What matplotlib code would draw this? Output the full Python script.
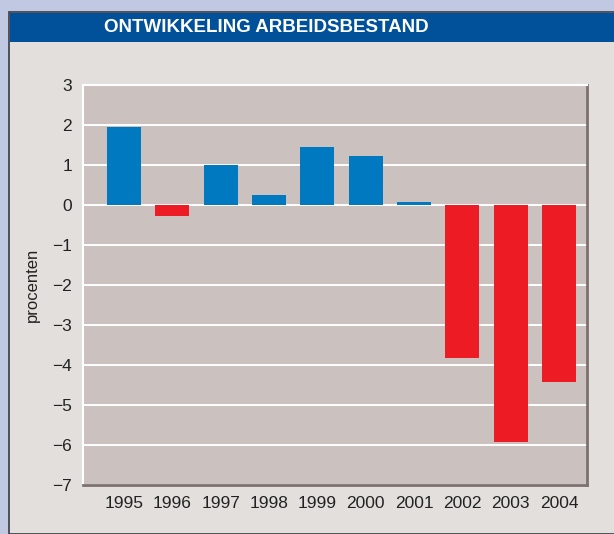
import matplotlib
matplotlib.use("Agg")
import matplotlib.pyplot as plt
from matplotlib.patches import Rectangle
from matplotlib import font_manager

years = ["1995", "1996", "1997", "1998", "1999", "2000", "2001", "2002", "2003", "2004"]
values = [1.95, -0.28, 1.0, 0.25, 1.45, 1.22, 0.08, -3.83, -5.93, -4.43]
yticks = [3, 2, 1, 0, -1, -2, -3, -4, -5, -6, -7]
title = "ONTWIKKELING ARBEIDSBESTAND"
ylabel = "procenten"

names = {f.name for f in font_manager.fontManager.ttflist}
narrow = "Liberation Sans Narrow" if "Liberation Sans Narrow" in names else "Liberation Sans"
plt.rcParams['font.family'] = [narrow, 'DejaVu Sans']

W, H = 614, 534
fig = plt.figure(figsize=(W / 100, H / 100), dpi=100)
fig.patch.set_facecolor("#c0c9e1")

def fx(px):
    return px / W

def fy(py):
    return 1 - py / H

# panel
fig.add_artist(Rectangle((fx(9), 0), 1 - fx(9) + 0.01, fy(12), transform=fig.transFigure,
                         facecolor="#e3dfdc", edgecolor="#3a3a44", linewidth=1.2, zorder=0))
# title bar
fig.add_artist(Rectangle((fx(10), fy(42)), 1, (42 - 13) / H, transform=fig.transFigure,
                         facecolor="#00509a", edgecolor="none", zorder=1))
fig.text(fx(266), fy(28), title, color="white", fontsize=13.5, fontweight="bold",
         ha="center", va="center", family=["Liberation Sans", "DejaVu Sans"], zorder=2)

ax = fig.add_axes([fx(83), fy(485), (587 - 83) / W, 400 / H])
ax.set_facecolor("#cbc2bf")
x = list(range(len(years)))
colors = ["#0079c1" if v >= 0 else "#ed1c24" for v in values]
ax.bar(x, values, width=0.7, color=colors, zorder=3)
ax.set_ylim(-7, 3)
ax.set_xlim(-0.85, 9.58)
ax.set_yticks(yticks)
ax.set_yticklabels([str(t).replace("-", "\u2212") for t in yticks])
ax.set_xticks(x)
ax.set_xticklabels(years)
ax.grid(axis="y", color="white", linewidth=1.4, zorder=1)
ax.tick_params(length=0, labelsize=12.5, colors="#222222", pad=8)
ax.tick_params(axis="y", pad=8)
for s in ["left", "top"]:
    ax.spines[s].set_color("white")
    ax.spines[s].set_linewidth(1.5)
for s in ["right", "bottom"]:
    ax.spines[s].set_color("#7d716f")
    ax.spines[s].set_linewidth(2)
ax.set_ylabel(ylabel, fontsize=12, color="#222222", labelpad=9)

fig.savefig("out.png", dpi=100, facecolor=fig.get_facecolor())
